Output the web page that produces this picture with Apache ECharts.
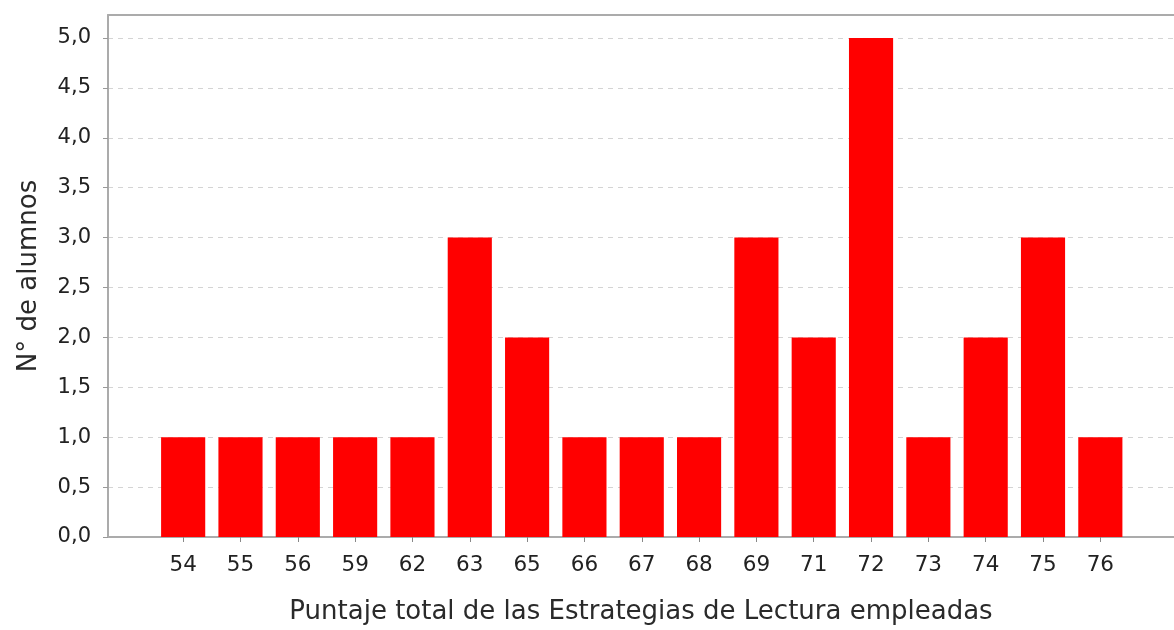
<!DOCTYPE html>
<html>
<head>
<meta charset="utf-8">
<script src="https://cdn.jsdelivr.net/npm/echarts@6/dist/echarts.min.js"></script>
<style>
html,body{margin:0;padding:0;background:#fff;}
#chart{width:1174px;height:630px;}
</style>
</head>
<body>
<div id="chart"></div>
<script>
const categories = ['54','55','56','59','62','63','65','66','67','68','69','71','72','73','74','75','76'];
const counts = [1,1,1,1,1,3,2,1,1,1,3,2,5,1,2,3,1];
const yTitle = 'N° de alumnos';
const xTitle = 'Puntaje total de las Estrategias de Lectura empleadas';

const font = 'DejaVu Sans, Verdana, sans-serif';
const chart = echarts.init(document.getElementById('chart'), null, {renderer:'canvas'});
const frame = {color:'#ababab', width:2};
chart.setOption({
  animation:false,
  backgroundColor:'#fff',
  grid:[
    {left:108, right:-20, top:15, bottom:93},
    {left:154.5, right:45, top:38, bottom:93},
    {left:108, right:-20, top:38, bottom:93}
  ],
  xAxis:[
    {gridIndex:0, type:'value', min:0, max:1, position:'bottom',
     axisLine:{show:true, lineStyle:frame},
     axisTick:{show:false}, axisLabel:{show:false}, splitLine:{show:false},
     name:xTitle, nameLocation:'middle', nameGap:62,
     nameTextStyle:{fontFamily:font, fontSize:26, color:'#2a2a2a'}},
    {gridIndex:0, type:'value', min:0, max:1, position:'top',
     axisLine:{show:true, lineStyle:frame},
     axisTick:{show:false}, axisLabel:{show:false}, splitLine:{show:false}},
    {gridIndex:1, type:'category', data:categories,
     axisLine:{show:false},
     axisTick:{show:true, alignWithLabel:true, length:5, lineStyle:{color:'#888'}},
     axisLabel:{fontFamily:font, fontSize:21.5, color:'#222', margin:17},
     splitLine:{show:false}},
    {gridIndex:2, type:'value', min:0, max:1, show:false}
  ],
  yAxis:[
    {gridIndex:0, type:'value', min:0, max:1,
     axisLine:{show:true, lineStyle:frame},
     axisTick:{show:false}, axisLabel:{show:false}, splitLine:{show:false},
     name:yTitle, nameLocation:'middle', nameGap:66,
     nameTextStyle:{fontFamily:font, fontSize:26, color:'#2a2a2a'}},
    {gridIndex:1, type:'value', min:0, max:5, show:false, splitLine:{show:false}},
    {gridIndex:2, type:'value', min:0, max:5, interval:0.5,
     axisLine:{show:false},
     axisTick:{show:true, length:5, lineStyle:{color:'#999'}},
     axisLabel:{fontFamily:font, fontSize:21, color:'#222', margin:17,
       formatter:function(v){ return v.toFixed(1).replace('.',','); }},
     splitLine:{show:true, lineStyle:{color:'#d4d4d4', type:[5,5], width:1}}}
  ],
  series:[{
    type:'bar', xAxisIndex:2, yAxisIndex:1, data:counts,
    barCategoryGap:'23%',
    itemStyle:{color:'#ff0000'}
  }]
});
</script>
</body>
</html>
